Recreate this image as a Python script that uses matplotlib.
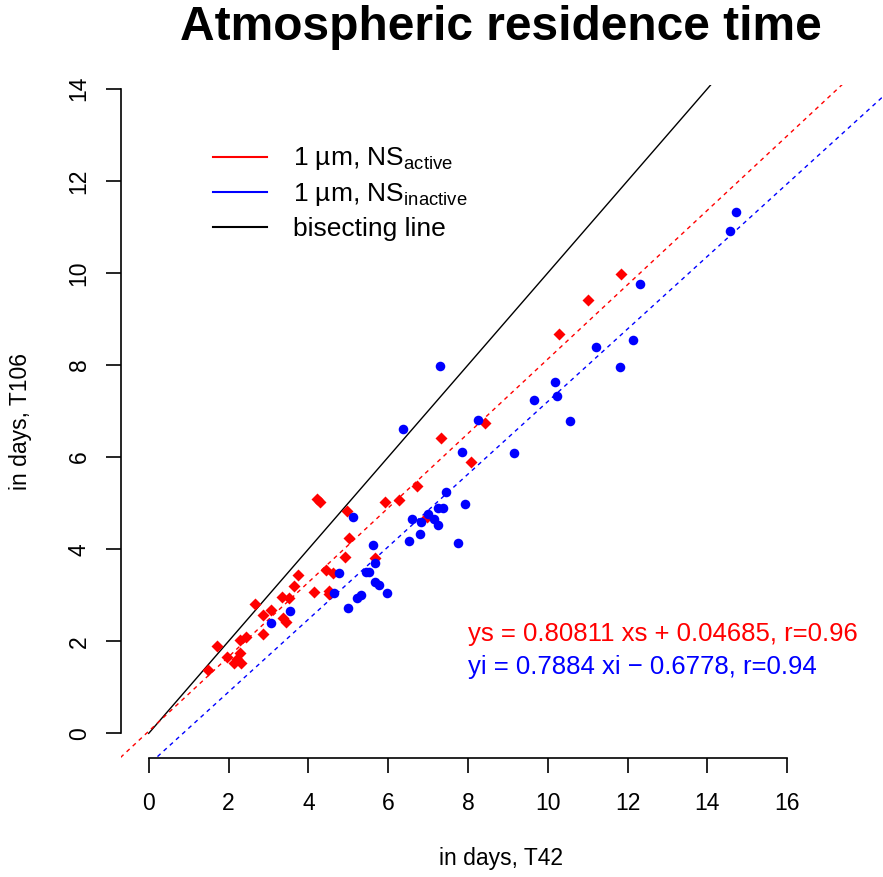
import matplotlib
matplotlib.use("Agg")
import matplotlib.pyplot as plt
import numpy as np

plt.rcParams['font.family'] = ['Liberation Sans', 'DejaVu Sans']
plt.rcParams['mathtext.fontset'] = 'custom'
plt.rcParams['mathtext.rm'] = 'Liberation Sans'
plt.rcParams['mathtext.it'] = 'Liberation Sans:italic'
plt.rcParams['mathtext.bf'] = 'Liberation Sans:bold'

# residence times in days (x: T42, y: T106)
xs_active = [1.49, 1.72, 1.97, 2.15, 2.22, 2.28, 2.32, 2.29, 2.44, 2.67,
             2.86, 2.87, 3.07, 3.37, 3.45, 3.34, 3.52, 3.63, 3.75, 4.15,
             4.44, 4.61, 4.52, 4.53, 4.21, 4.30, 4.91, 4.98, 5.02, 5.68,
             5.91, 6.28, 6.72, 6.97, 7.33, 8.08, 8.43, 10.28, 11.01, 11.83]
ys_active = [1.37, 1.90, 1.65, 1.52, 1.62, 1.75, 1.52, 2.03, 2.10, 2.80,
             2.15, 2.57, 2.68, 2.50, 2.42, 2.97, 2.95, 3.20, 3.45, 3.08,
             3.55, 3.49, 3.09, 3.03, 5.10, 5.03, 3.84, 4.83, 4.24, 3.80,
             5.02, 5.07, 5.38, 4.70, 6.41, 5.90, 6.75, 8.68, 9.42, 9.97]

xi_inactive = [3.07, 3.53, 4.65, 4.78, 4.99, 5.11, 5.23, 5.32, 5.44, 5.51,
               5.63, 5.68, 5.68, 5.76, 5.98, 6.37, 6.52, 6.61, 6.80, 6.82,
               6.99, 7.14, 7.26, 7.25, 7.37, 7.45, 7.76, 7.86, 7.92, 8.26,
               7.31, 9.15, 9.65, 10.19, 10.23, 10.55, 11.20, 11.80, 12.14, 12.31,
               14.56, 14.73]
yi_inactive = [2.39, 2.66, 3.04, 3.48, 2.72, 4.70, 2.93, 3.00, 3.51, 3.51,
               4.09, 3.69, 3.29, 3.22, 3.05, 6.61, 4.18, 4.65, 4.33, 4.58,
               4.76, 4.65, 4.52, 4.90, 4.90, 5.25, 4.13, 6.12, 4.98, 6.80,
               7.98, 6.08, 7.24, 7.64, 7.33, 6.79, 8.40, 7.96, 8.54, 9.76,
               10.91, 11.32]

# regression fits shown on the plot
fit_active = (0.80811, 0.04685, 0.96)
fit_inactive = (0.7884, -0.6778, 0.94)

xticks = np.arange(0, 17, 2)
yticks = np.arange(0, 15, 2)

W, H = 883, 877
fig = plt.figure(figsize=(W / 100, H / 100), dpi=100)
ax = fig.add_axes([120.5 / W, (H - 758.3) / H, (882 - 120.5) / W, (758.3 - 85) / H])

# R-style ranges: data range extended by 4% on each side
xr = (0, 17.67)
yr = (0, 13.54)
ax.set_xlim(xr[0] - 0.04 * (xr[1] - xr[0]), xr[1] + 0.04 * (xr[1] - xr[0]))
ax.set_ylim(yr[0] - 0.04 * (yr[1] - yr[0]), yr[1] + 0.04 * (yr[1] - yr[0]))

xl = np.array(ax.get_xlim())
ax.plot([0, xl[1]], [0, xl[1]], color='black', lw=1.0)
a, b, _ = fit_active
ax.plot(xl, a * xl + b, color='red', lw=1.0, ls=(0, (3, 3)))
a, b, _ = fit_inactive
ax.plot(xl, a * xl + b, color='blue', lw=1.0, ls=(0, (3, 3)))

ax.plot(xs_active, ys_active, 'D', color='red', ms=5.7, mec='none')
ax.plot(xi_inactive, yi_inactive, 'o', color='blue', ms=6.9, mec='none')

for s in ['top', 'right']:
    ax.spines[s].set_visible(False)
ax.spines['bottom'].set_bounds(0, 16)
ax.spines['left'].set_bounds(0, 14)
for s in ['bottom', 'left']:
    ax.spines[s].set_linewidth(1.2)
ax.set_xticks(xticks)
ax.set_yticks(yticks)
ax.tick_params(direction='out', length=10.5, width=1.2, labelsize=16.5)
ax.tick_params(axis='x', pad=14)
ax.tick_params(axis='y', pad=11)
for lab in ax.get_yticklabels():
    lab.set_rotation(90)
    lab.set_va('center')

fig.text(501 / W, 1 - 28 / H, 'Atmospheric residence time', ha='center', va='center',
         fontsize=34.5, fontweight='bold')
fig.text(501 / W, 1 - 858 / H, 'in days, T42', ha='center', va='center', fontsize=16.5)
fig.text(21 / W, 1 - 421.6 / H, 'in days, T106', ha='center', va='center',
         rotation=90, fontsize=16.5)

# legend
leg = [('red', r'1 µm, NS$_{\mathrm{active}}$'),
       ('blue', r'1 µm, NS$_{\mathrm{inactive}}$'),
       ('black', 'bisecting line')]
for i, (c, t) in enumerate(leg):
    yy = 156.7 + i * 35.3
    fig.add_artist(plt.Line2D([213 / W, 267 / W], [1 - yy / H, 1 - yy / H], color=c, lw=1.5))
    fig.text(293 / W, 1 - (yy + 8.5) / H, t, ha='left', va='baseline', fontsize=19)

a, b, r = fit_active
fig.text(468 / W, 1 - 640.7 / H, f'ys = {a} xs + {b}, r={r}', color='red',
         ha='left', va='baseline', fontsize=18.5)
a, b, r = fit_inactive
fig.text(468 / W, 1 - 674 / H, f'yi = {a} xi \u2212 {abs(b)}, r={r}', color='blue',
         ha='left', va='baseline', fontsize=18.5)

fig.savefig('out.png', dpi=100)
